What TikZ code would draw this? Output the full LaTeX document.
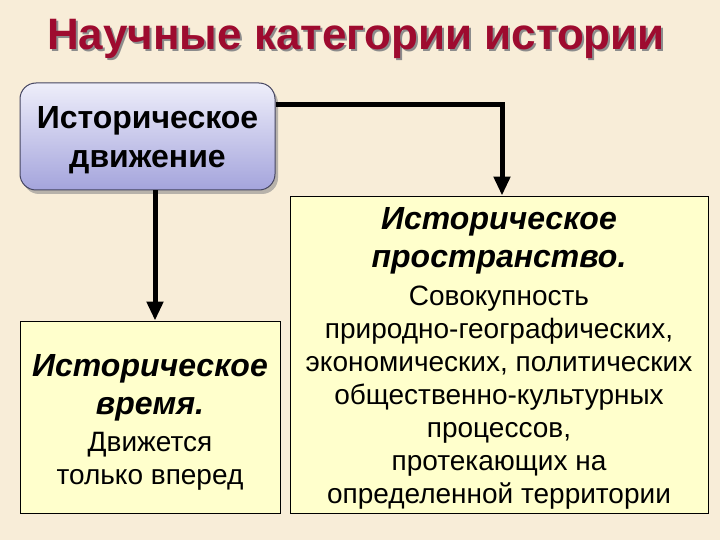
\documentclass[tikz,border=0pt]{standalone}
\usepackage{fontspec}
\setmainfont{Liberation Sans}
\usetikzlibrary{arrows.meta,shadows}
\definecolor{bgcol}{HTML}{F8EDD8}
\definecolor{titlecol}{HTML}{9E0B2F}
\definecolor{boxyellow}{HTML}{FFFFCC}
\definecolor{lavtop}{HTML}{EEEEFA}
\definecolor{lavbot}{HTML}{A4A4DC}
\definecolor{lavborder}{HTML}{454560}
\newcommand{\shadowtitle}[1]{\makebox[0pt][l]{\hspace*{2pt}\raisebox{-2pt}{\textcolor{black!45}{#1}}}\textcolor{titlecol}{#1}}
\tikzset{
  x=1pt, y=-1pt,
  titletext/.style={font=\fontsize{44}{50}\selectfont\bfseries, inner sep=0pt},
  movebox/.style={draw=lavborder, line width=1pt, rounded corners=16pt,
    top color=lavtop, bottom color=lavbot,
    drop shadow={shadow xshift=3pt, shadow yshift=-4pt, fill=black!45, opacity=0.6},
    minimum width=255pt, minimum height=107pt, inner sep=0pt},
  movetext/.style={align=center, inner sep=0pt, font=\fontsize{32}{39}\selectfont\bfseries},
  catbox/.style={draw=black, line width=0.9pt, fill=boxyellow, inner sep=0pt},
  cattext/.style={align=center, inner sep=0pt, font=\fontsize{28}{33}\selectfont},
  headfont/.style={},
  arr/.style={line width=5pt, -{Triangle[width=16pt,length=19pt]}},
}
\newcommand{\hd}[1]{{\fontsize{32}{38}\selectfont\bfseries\itshape #1}}
\begin{document}
\begin{tikzpicture}
\fill[bgcol] (0,0) rectangle (720,540);
\useasboundingbox (0,0) rectangle (720,540);
% title
\node[titletext] (title) at (356,40) {\shadowtitle{Научные категории истории}};
% boxes
\node[movebox] (move) at (147.5,136.5) {};
\node[movetext] (movet) at (147.5,140) {Историческое\\движение};
\node[catbox, minimum width=418pt, minimum height=317pt] (space) at (499,354.5) {};
\node[cattext] (spacet) at (499,358) 
  {\hd{Историческое}\\[5pt]
   \hd{пространство.}\\[5pt]
   Совокупность\\
   природно-географических,\\
   экономических, политических\\
   общественно-культурных\\
   процессов,\\
   протекающих на\\
   определенной территории};
\node[catbox, minimum width=260pt, minimum height=192pt] (time) at (150,417) {};
\node[cattext] (timet) at (150,422)
  {\hd{Историческое}\\[5pt]
   \hd{время.}\\[4pt]
   Движется\\
   только вперед};
% connectors
\draw[arr] ([yshift=31.5pt]move.east) -| ([xshift=3pt]space.north);
\draw[arr] ([xshift=7.5pt]move.south) -- ([xshift=7.5pt]move.south |- time.north);
\end{tikzpicture}
\end{document}
